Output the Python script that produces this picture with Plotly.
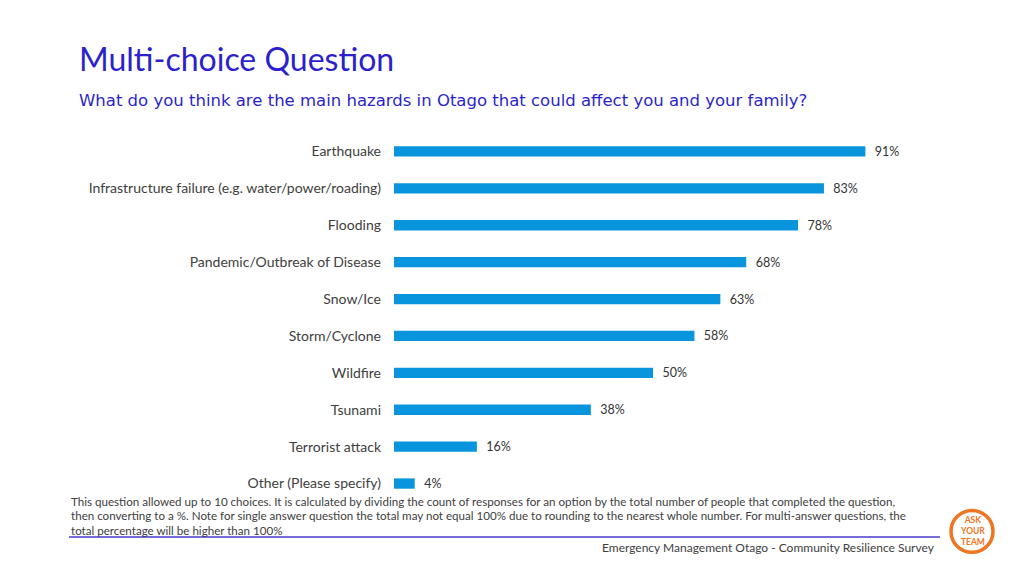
import plotly.graph_objects as go

categories = ["Earthquake", "Infrastructure failure (e.g. water/power/roading)", "Flooding",
              "Pandemic/Outbreak of Disease", "Snow/Ice", "Storm/Cyclone", "Wildfire",
              "Tsunami", "Terrorist attack", "Other (Please specify)"]
values = [91, 83, 78, 68, 63, 58, 50, 38, 16, 4]
value_labels = [f"  {v}%" for v in values]

title = "Multi-choice Question"
subtitle = "What do you think are the main hazards in Otago that could affect you and your family?"
footnote_lines = [
    "This question allowed up to 10 choices. It is calculated by dividing the count of responses for an option by the total number of people that completed the question,",
    "then converting to a %. Note for single answer question the total may not equal 100% due to rounding to the nearest whole number. For multi-answer questions, the",
    "total percentage will be higher than 100%",
]
source = "Emergency Management Otago - Community Resilience Survey"

FONT = "Lato, Open Sans, sans-serif"
WIDE = "DejaVu Sans, Lato, sans-serif"
W, H = 1024, 576
L, R, T, B = 394, 112, 132.5, 73.5
PW, PH = W - L - R, H - T - B


def px(x):
    return (x - L) / PW


def py(y):
    return (H - B - y) / PH


fig = go.Figure(go.Bar(
    x=values, y=categories, orientation="h",
    marker=dict(color="#0995DD", line=dict(width=0)),
    width=0.28,
    text=value_labels, textposition="outside", cliponaxis=False, constraintext="none",
    textfont=dict(family=FONT, size=12.5, color="#333333"),
    hoverinfo="skip",
))

fig.update_layout(
    width=W, height=H,
    paper_bgcolor="white", plot_bgcolor="white",
    margin=dict(l=L, r=R, t=T, b=B, pad=0),
    showlegend=False,
    font=dict(family=FONT, color="#404040"),
    xaxis=dict(range=[0, 100], visible=False, fixedrange=True),
    yaxis=dict(autorange="reversed", type="category", showgrid=False, zeroline=False,
               showline=False, ticks="", ticklabelstandoff=12, fixedrange=True,
               tickfont=dict(family=FONT, size=14, color="#404040")),
)

ann = []
ann.append(dict(text=title, x=px(77), y=py(58),
                xanchor="left", yanchor="middle", showarrow=False,
                font=dict(family=FONT, size=32, color="#2B1FCF")))
ann.append(dict(text=subtitle, x=px(77), y=py(100),
                xanchor="left", yanchor="middle", showarrow=False,
                font=dict(family=WIDE, size=16.5, color="#2B1FCF")))
for i, line in enumerate(footnote_lines):
    ann.append(dict(text=line, x=px(69), y=py(502 + 14.5 * i),
                    xanchor="left", yanchor="middle", align="left", showarrow=False,
                    font=dict(family=FONT, size=11.6, color="#404040")))
ann.append(dict(text=source, x=px(937), y=py(548),
                xanchor="right", yanchor="middle", showarrow=False,
                font=dict(family=FONT, size=12, color="#404040")))
ann.append(dict(text="<b>ASK<br>YOUR<br>TEAM</b>", x=px(972), y=py(532),
                xanchor="center", yanchor="middle", showarrow=False,
                font=dict(family=FONT, size=8.5, color="#EE7622")))
for a in ann:
    a["xref"] = "paper"
    a["yref"] = "paper"
fig.update_layout(annotations=ann)

fig.update_layout(shapes=[
    dict(type="line", xref="paper", yref="paper", x0=px(69), x1=px(940),
         y0=py(537.5), y1=py(537.5), line=dict(color="#4B3BCF", width=1.5)),
    dict(type="circle", xref="paper", yref="paper", x0=px(951), x1=px(993),
         y0=py(553), y1=py(511), line=dict(color="#EE7622", width=3.5)),
])

fig.write_html("out.html", config={"displayModeBar": False})
with open("out.html", encoding="utf-8") as f:
    html = f.read()
html = html.replace("<body>", '<body style="margin:0;padding:0;overflow:hidden">', 1)
with open("out.html", "w", encoding="utf-8") as f:
    f.write(html)
